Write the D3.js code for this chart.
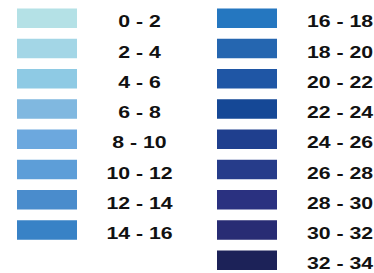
<!DOCTYPE html>
<html>
<head>
<meta charset="utf-8">
<script src="https://d3js.org/d3.v7.min.js"></script>
<style>
  body { margin: 0; background: #fff; }
  .key_label { font-family: "Liberation Sans", Arial, sans-serif; font-weight: bold; font-size: 17px; fill: #111; }
</style>
</head>
<body>
<div id="key_div"></div>
<script>
var ranges = ["0 - 2", "2 - 4", "4 - 6", "6 - 8", "8 - 10", "10 - 12", "12 - 14", "14 - 16",
              "16 - 18", "18 - 20", "20 - 22", "22 - 24", "24 - 26", "26 - 28", "28 - 30", "30 - 32", "32 - 34"];
var colors = ["#b4e1e6", "#a3d6e6", "#8ecae4", "#80b8e0", "#6ca8de", "#5d9ed8", "#4a8ccc", "#3882c6",
              "#2577c0", "#2566b0", "#1f56a5", "#154896", "#1f3f8e", "#263c8a", "#2a3180", "#282c74", "#1c2258"];
var perColumn = [8, 9];

var width = 374, height = 273;

var svg = d3.select("#key_div")
  .append("svg")
    .attr("width", width)
    .attr("height", height);

// column / row scales
var col_scale = d3.scaleOrdinal().domain([0, 1]).range([17, 217]);
var label_scale = d3.scaleOrdinal().domain([0, 1]).range([139.5, 340]);
var row_scale = d3.scaleLinear().domain([0, 8]).range([8.5, 250.5]);

var items = ranges.map(function(r, i) {
  var c = i < perColumn[0] ? 0 : 1;
  var row = c === 0 ? i : i - perColumn[0];
  return {label: r, color: colors[i], col: c, row: row};
});

var key = svg.selectAll(".key_line")
    .data(items)
  .enter().append("g")
    .attr("class", "key_line")
    .attr("transform", function(d) { return "translate(0," + row_scale(d.row) + ")"; });

key.append("rect")
    .attr("x", function(d) { return col_scale(d.col); })
    .attr("y", 0)
    .attr("width", 60)
    .attr("height", 19.5)
    .attr("fill", function(d) { return d.color; });

key.append("text")
    .attr("class", "key_label")
    .attr("text-anchor", "middle")
    .attr("transform", function(d) { return "translate(" + label_scale(d.col) + ",18.8) scale(1.25,1)"; })
    .text(function(d) { return d.label; });
</script>
</body>
</html>
